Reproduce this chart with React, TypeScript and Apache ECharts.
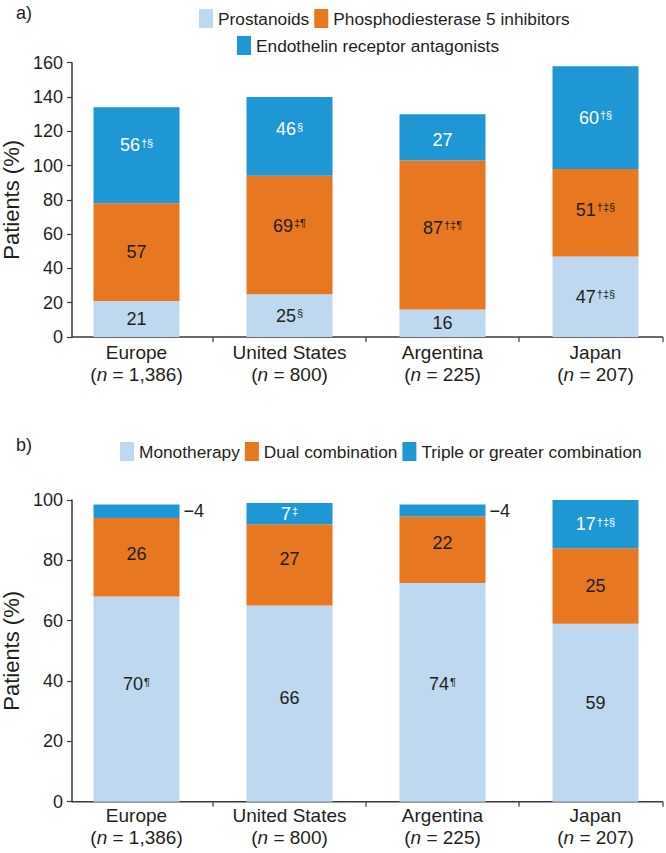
import React, { useEffect, useRef } from "react";
import * as echarts from "echarts";

// ---------- data ----------
const regions = ["Europe", "United States", "Argentina", "Japan"];
const sampleSizes = ["1,386", "800", "225", "207"];

// Panel a: drug classes used (% of patients)
const drugClassNames = ["Prostanoids", "Phosphodiesterase 5 inhibitors", "Endothelin receptor antagonists"];
const prostanoids = [21, 25, 16, 47];
const pde5i = [57, 69, 87, 51];
const era = [56, 46, 27, 60];
const prostanoidMarks = ["", "§", "", "†‡§"];
const pde5iMarks = ["", "‡¶", "†‡¶", "†‡§"];
const eraMarks = ["†§", "§", "", "†§"];

// Panel b: therapy regimen (% of patients), bar heights as drawn
const regimenNames = ["Monotherapy", "Dual combination", "Triple or greater combination"];
const monotherapy = [68, 65, 72.5, 59];
const dualCombination = [26, 27, 22, 25];
const tripleCombination = [4.5, 7, 4, 17];
// printed labels
const monoLabels = [70, 66, 74, 59];
const dualLabels = [26, 27, 22, 25];
const tripleLabels = [4, 7, 4, 17];
const monoMarks = ["¶", "", "¶", ""];
const dualMarks = ["", "", "", ""];
const tripleMarks = ["", "‡", "", "†‡§"];
const tripleOutside = [true, false, true, false];

const yTicksA = { min: 0, max: 160, interval: 20 };
const yTicksB = { min: 0, max: 100, interval: 20 };

// ---------- styles / layout ----------
const FONT = "'Liberation Sans', Arial, Helvetica, sans-serif";
const DARK = "#231f20";
const AXIS = "#3a3a3a";
const LIGHT = "#bdd8ef";
const ORANGE = "#e87722";
const BLUE = "#1f97d4";

const GRID_LEFT = 60;
const GRID_W = 612;
const A_TOP = 62.7;
const A_BOTTOM = 337;
const B_TOP = 500;
const B_BOTTOM = 801.7;
const AXIS_X = 72;
const AXIS_END = 663;

// label vertical nudges (px)
const nudgeA = {
  pro: [0, 0, 0, 0],
  pde: [0, -9, -7, -3],
  era: [-10, -7, 3, 0],
};
const nudgeB = {
  mono: [-15, -6, -8, -10],
  dual: [-3, -6, -7, 0],
  tri: [0, 0, 0, 0],
};

const labelRich = (color: string) => ({
  n: { fontSize: 18, color, fontFamily: FONT, lineHeight: 22 },
  s: { fontSize: 11, color, fontFamily: FONT, lineHeight: 11, verticalAlign: "top", padding: [3, 0, 0, 1] },
});

function fmt(v: number | string, mark: string) {
  return mark ? `{n|${v}}{s|${mark}}` : `{n|${v}}`;
}

function makeSeries(
  name: string,
  values: number[],
  labels: (number | string)[],
  marks: string[],
  color: string,
  textColor: string,
  stack: string,
  axisIndex: number,
  nudges: number[],
  outside?: boolean[]
) {
  return {
    name,
    type: "bar",
    stack,
    xAxisIndex: axisIndex,
    yAxisIndex: axisIndex,
    barWidth: 86,
    itemStyle: { color },
    label: {
      show: true,
      position: "inside",
      formatter: (p: any) => fmt(labels[p.dataIndex], marks[p.dataIndex]),
      rich: labelRich(textColor),
    },
    data: values.map((v, i) => {
      if (outside && outside[i]) {
        return {
          value: v,
          label: {
            position: "right",
            distance: 4,
            formatter: () => `{n|−${labels[i]}}`,
            rich: labelRich(DARK),
          },
        };
      }
      return { value: v, label: { offset: [0, nudges[i]] } };
    }),
  };
}

const catLabel = (margin: number) => ({
  interval: 0,
  margin,
  formatter: (value: string, index: number) =>
    `{c|${value}}\n{p|(}{i|n}{p| = ${sampleSizes[index]})}`,
  rich: {
    c: { fontSize: 19, lineHeight: 22, color: DARK, fontFamily: FONT },
    p: { fontSize: 19, lineHeight: 22, color: DARK, fontFamily: FONT },
    i: { fontSize: 19, lineHeight: 22, color: DARK, fontFamily: FONT, fontStyle: "italic" },
  },
});

const valueAxis = (gridIndex: number, ticks: { min: number; max: number; interval: number }) => ({
  gridIndex,
  type: "value",
  min: ticks.min,
  max: ticks.max,
  interval: ticks.interval,
  offset: GRID_LEFT - AXIS_X,
  axisLine: { show: true, lineStyle: { color: AXIS, width: 1.5 } },
  axisTick: { show: true, length: 5, lineStyle: { color: AXIS, width: 1.2 } },
  axisLabel: { fontSize: 18, color: DARK, fontFamily: FONT, margin: 9 },
  splitLine: { show: false },
  name: "Patients (%)",
  nameLocation: "middle",
  nameGap: 48,
  nameTextStyle: { fontSize: 22, color: DARK, fontFamily: FONT },
});

function axisGraphics(y: number) {
  const cat = GRID_W / regions.length;
  const tickXs = [1, 2, 3].map((i) => GRID_LEFT + cat * i).concat([AXIS_END]);
  const els: any[] = [
    {
      type: "line",
      shape: { x1: AXIS_X, y1: y, x2: AXIS_END, y2: y },
      style: { stroke: AXIS, lineWidth: 1.5 },
    },
  ];
  tickXs.forEach((x) =>
    els.push({
      type: "line",
      shape: { x1: x, y1: y, x2: x, y2: y + 5 },
      style: { stroke: AXIS, lineWidth: 1.2 },
    })
  );
  return els;
}

const legendBase = {
  icon: "rect",
  itemWidth: 14,
  itemHeight: 19,
  itemGap: 5,
  textStyle: { fontSize: 17.3, color: DARK, fontFamily: FONT },
};

export default function App() {
  const ref = useRef<HTMLDivElement>(null);
  useEffect(() => {
    document.body.style.margin = "0";
    const chart = echarts.init(ref.current!, null, { renderer: "svg" });
    const option: any = {
      animation: false,
      backgroundColor: "#ffffff",
      legend: [
        { ...legendBase, data: [drugClassNames[0], drugClassNames[1]], left: 194, top: 4 },
        { ...legendBase, data: [drugClassNames[2]], left: 232, top: 31 },
        { ...legendBase, data: regimenNames, left: 115, top: 437 },
      ],
      grid: [
        { left: GRID_LEFT, width: GRID_W, top: A_TOP, height: A_BOTTOM - A_TOP, containLabel: false, outerBoundsMode: "none" },
        { left: GRID_LEFT, width: GRID_W, top: B_TOP, height: B_BOTTOM - B_TOP, containLabel: false, outerBoundsMode: "none" },
      ],
      xAxis: [
        { gridIndex: 0, type: "category", data: regions, axisLine: { show: false }, axisTick: { show: false }, axisLabel: catLabel(4) },
        { gridIndex: 1, type: "category", data: regions, axisLine: { show: false }, axisTick: { show: false }, axisLabel: catLabel(3) },
      ],
      yAxis: [valueAxis(0, yTicksA), valueAxis(1, yTicksB)],
      series: [
        makeSeries(drugClassNames[0], prostanoids, prostanoids, prostanoidMarks, LIGHT, DARK, "a", 0, nudgeA.pro),
        makeSeries(drugClassNames[1], pde5i, pde5i, pde5iMarks, ORANGE, DARK, "a", 0, nudgeA.pde),
        makeSeries(drugClassNames[2], era, era, eraMarks, BLUE, "#ffffff", "a", 0, nudgeA.era),
        makeSeries(regimenNames[0], monotherapy, monoLabels, monoMarks, LIGHT, DARK, "b", 1, nudgeB.mono),
        makeSeries(regimenNames[1], dualCombination, dualLabels, dualMarks, ORANGE, DARK, "b", 1, nudgeB.dual),
        makeSeries(regimenNames[2], tripleCombination, tripleLabels, tripleMarks, BLUE, "#ffffff", "b", 1, nudgeB.tri, tripleOutside),
      ],
      graphic: [
        { type: "text", left: 16, top: 4, style: { text: "a)", fontSize: 18, fill: DARK, fontFamily: FONT } },
        { type: "text", left: 16, top: 436, style: { text: "b)", fontSize: 18, fill: DARK, fontFamily: FONT } },
        ...axisGraphics(A_BOTTOM),
        ...axisGraphics(B_BOTTOM),
      ],
    };
    chart.setOption(option);
    return () => chart.dispose();
  }, []);
  return <div ref={ref} style={{ width: 666, height: 853 }} />;
}
